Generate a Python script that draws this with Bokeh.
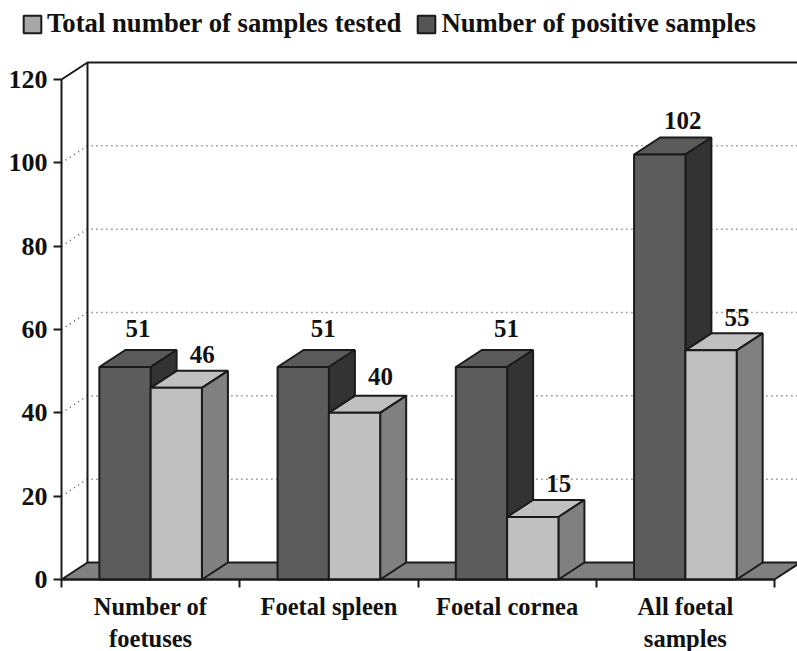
from bokeh.plotting import figure
from bokeh.models import ColumnDataSource, FixedTicker, Legend, LegendItem, Range1d
from bokeh.core.properties import value
from bokeh.embed import file_html
from bokeh.resources import INLINE

categories = ["Number of\nfoetuses", "Foetal spleen", "Foetal cornea", "All foetal\nsamples"]
positive = [51, 51, 51, 102]
tested = [46, 40, 15, 55]
y_ticks = [0, 20, 40, 60, 80, 100, 120]
grid_values = [20, 40, 60, 80, 100]

FONT = "Liberation Serif"
EDGE = "#1a1a1a"
LINE = 2
W, H = 797, 651
AX_X, AX_Y = 61, 579  # position of the data origin in the figure
XPX = 178.25          # pixels per category
YPX = 500 / 120       # pixels per unit
DX = 26 / XPX         # depth, data units
DY = 17 / YPX
BAR = 51.3 / XPX

centers = [i + 0.5 for i in range(len(categories))]
x_start, x_end = -AX_X / XPX, (W - AX_X) / XPX
y_start, y_end = (AX_Y - H) / YPX, AX_Y / YPX

p = figure(width=W, height=H, output_backend="svg", toolbar_location=None,
           x_range=Range1d(x_start, x_end), y_range=Range1d(y_start, y_end),
           min_border=0, outline_line_color=None)
p.grid.visible = False

# floor
p.patch([0, DX, 4 + DX, 4], [0, DY, DY, 0], fill_color="#808080", line_color=EDGE, line_width=LINE)

# dotted grid on the walls
p.multi_line([[0, DX, 4 + DX] for _ in grid_values], [[v, v + DY, v + DY] for v in grid_values],
             line_color="#555555", line_width=1.5, line_dash="1 4")

# walls
p.line([DX, DX], [DY, 120 + DY], line_color=EDGE, line_width=LINE)
p.line([0, DX, x_end], [120, 120 + DY, 120 + DY], line_color=EDGE, line_width=LINE)


def bars(x0s, vals, front, top, side):
    x1s = [x + BAR for x in x0s]
    p.patches([[a, a + DX, b + DX, b] for a, b in zip(x0s, x1s)],
              [[v, v + DY, v + DY, v] for v in vals],
              fill_color=top, line_color=EDGE, line_width=LINE)
    p.patches([[b, b + DX, b + DX, b] for b in x1s],
              [[0, DY, v + DY, v] for v in vals],
              fill_color=side, line_color=EDGE, line_width=LINE)
    p.quad(left=x0s, right=x1s, bottom=0, top=vals,
           fill_color=front, line_color=EDGE, line_width=LINE)


# legend keys: zero-size quads, only their colours show in the legend
key = dict(left=[0], right=[0], bottom=[0], top=[0])
r_tested = p.quad(source=ColumnDataSource(key), left="left", right="right", bottom="bottom", top="top",
                  fill_color="#a8a8a8", line_color=EDGE, line_width=LINE)
r_pos = p.quad(source=ColumnDataSource(key), left="left", right="right", bottom="bottom", top="top",
               fill_color="#555555", line_color=EDGE, line_width=LINE)

bars([c - BAR for c in centers], positive, "#5c5c5c", "#5a5a5a", "#333333")
bars(list(centers), tested, "#c0c0c0", "#c0c0c0", "#808080")

# value labels
lab_x = [c - BAR / 2 + DX / 2 for c in centers] + [c + BAR / 2 + DX / 2 for c in centers]
lab_y = positive + tested
lab_dx = [0, 7, 12, 10, 13, 13, 13, 13]
lab_dy = [-39, -39, -39, -34, -33, -36, -34, -33]
p.text(x=lab_x, y=lab_y, text=[str(v) for v in lab_y], x_offset=lab_dx, y_offset=lab_dy,
       text_font=value(FONT), text_font_style="bold", text_font_size="25px",
       text_color="#111111", text_align="center", text_baseline="middle")

# axes
ya = p.yaxis[0]
ya.fixed_location = 0
ya.ticker = FixedTicker(ticks=y_ticks)
ya.bounds = (0, 120)
ya.major_tick_out = 8
ya.major_tick_in = 0
ya.minor_tick_line_color = None
ya.axis_line_color = EDGE
ya.axis_line_width = LINE
ya.major_tick_line_color = EDGE
ya.major_tick_line_width = LINE
ya.major_label_standoff = 6
ya.major_label_text_font = FONT
ya.major_label_text_font_style = "bold"
ya.major_label_text_font_size = "26px"
ya.major_label_text_color = "#111111"

xa = p.xaxis[0]
xa.fixed_location = 0
xa.ticker = FixedTicker(ticks=centers, minor_ticks=[0, 1, 2, 3, 4])
xa.bounds = (0, 4)
xa.major_label_overrides = {c: t for c, t in zip(centers, categories)}
xa.major_tick_line_color = None
xa.major_tick_out = 8
xa.major_tick_in = 0
xa.minor_tick_out = 8
xa.minor_tick_in = 0
xa.minor_tick_line_color = EDGE
xa.minor_tick_line_width = LINE
xa.axis_line_color = EDGE
xa.axis_line_width = LINE
xa.major_label_standoff = 5
xa.major_label_text_font = FONT
xa.major_label_text_font_style = "bold"
xa.major_label_text_font_size = "24.5px"
xa.major_label_text_color = "#111111"

# legend
legend = Legend(items=[LegendItem(label="Total number of samples tested", renderers=[r_tested]),
                       LegendItem(label="Number of positive samples", renderers=[r_pos])],
                orientation="horizontal", location=(21, 612),
                border_line_color=None, background_fill_alpha=0,
                label_text_font=FONT, label_text_font_style="bold", label_text_font_size="26.7px",
                label_text_color="#111111", glyph_width=22, glyph_height=22,
                label_standoff=4, spacing=14, padding=4, margin=0)
p.add_layout(legend)

open("out.html", "w").write(file_html(p, INLINE))
